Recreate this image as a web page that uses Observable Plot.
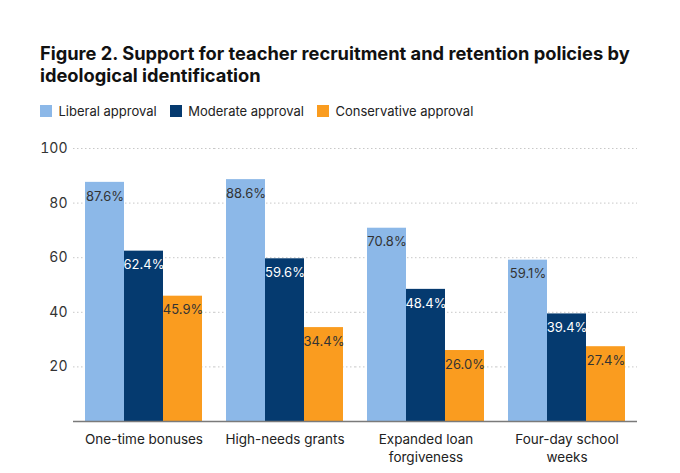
<!DOCTYPE html>
<html>
<head>
<meta charset="utf-8">
<script src="https://cdn.jsdelivr.net/npm/d3@7"></script>
<script src="https://cdn.jsdelivr.net/npm/@observablehq/plot@0.6"></script>
<style>
  html, body { margin: 0; padding: 0; background: #fff; }
  body { width: 680px; height: 473px; position: relative; font-family: Inter, "Noto Sans", sans-serif; overflow: hidden; }
  #title { position: absolute; left: 40px; top: 43px; width: 630px; font-size: 18.3px; font-weight: 700; line-height: 21.5px; color: #111; }
  #legend { position: absolute; left: 40px; top: 94px; }
  #chart { position: absolute; left: 0; top: 130px; }
</style>
</head>
<body>
<div id="title">Figure 2. Support for teacher recruitment and retention policies by ideological identification</div>
<div id="legend"></div>
<div id="chart"></div>
<script>
const categories = ["One-time bonuses", "High-needs grants", "Expanded loan forgiveness", "Four-day school weeks"];
const categoryLabels = ["One-time bonuses", "High-needs grants", "Expanded loan\nforgiveness", "Four-day school\nweeks"];
const series = ["Liberal approval", "Moderate approval", "Conservative approval"];
const liberal = [87.6, 88.6, 70.8, 59.1];
const moderate = [62.4, 59.6, 48.4, 39.4];
const conservative = [45.9, 34.4, 26.0, 27.4];
const colors = ["#8cb8e8", "#053a6f", "#fa9c1f"];
const labelColors = ["#333", "#fff", "#333"];
const yTicks = [20, 40, 60, 80, 100];

const seriesValues = [liberal, moderate, conservative];
const data = [];
categories.forEach((c, i) => series.forEach((s, j) => data.push({category: c, series: s, value: seriesValues[j][i], labelColor: labelColors[j]})));

const font = "Inter, 'Noto Sans', sans-serif";

const legend = Plot.legend({
  color: {domain: series, range: colors},
  legend: "swatches",
  swatchSize: 12,
  style: {fontFamily: font, fontSize: "13px", color: "#222"}
});
document.getElementById("legend").append(legend);

const chart = Plot.plot({
  width: 680,
  height: 343,
  marginTop: 18,
  marginBottom: 52,
  marginLeft: 72,
  marginRight: 43,
  style: {fontFamily: font, fontSize: "13px", color: "#333", background: "#fff"},
  fx: {domain: categories, padding: 0, axis: null},
  x: {domain: series, paddingInner: 0, paddingOuter: 0.265, axis: null},
  y: {domain: [0, 100], ticks: yTicks, label: null, axis: null},
  color: {domain: series, range: colors},
  marks: [
    Plot.gridY(yTicks, {stroke: "#c8c8c8", strokeOpacity: 1, strokeDasharray: "1.5,2.5"}),
    Plot.axisY({ticks: yTicks, tickSize: 0, tickPadding: 6, fontSize: 14, fill: "#333", label: null}),
    Plot.axisFx({anchor: "bottom", tickSize: 0, tickPadding: 10, fontSize: 13.5, fill: "#222", label: null,
                 tickFormat: d => categoryLabels[categories.indexOf(d)], lineHeight: 1.3}),
    Plot.barY(data, {fx: "category", x: "series", y: "value", fill: "series"}),
    Plot.ruleY([0], {stroke: "#7a7a7a", strokeWidth: 1.5}),
    Plot.text(data, {fx: "category", x: "series", y: "value", text: d => d.value.toFixed(1) + "%",
                     fill: "labelColor", dy: 14, fontSize: 13, textAnchor: "middle"})
  ]
});
document.getElementById("chart").append(chart);
</script>
</body>
</html>
